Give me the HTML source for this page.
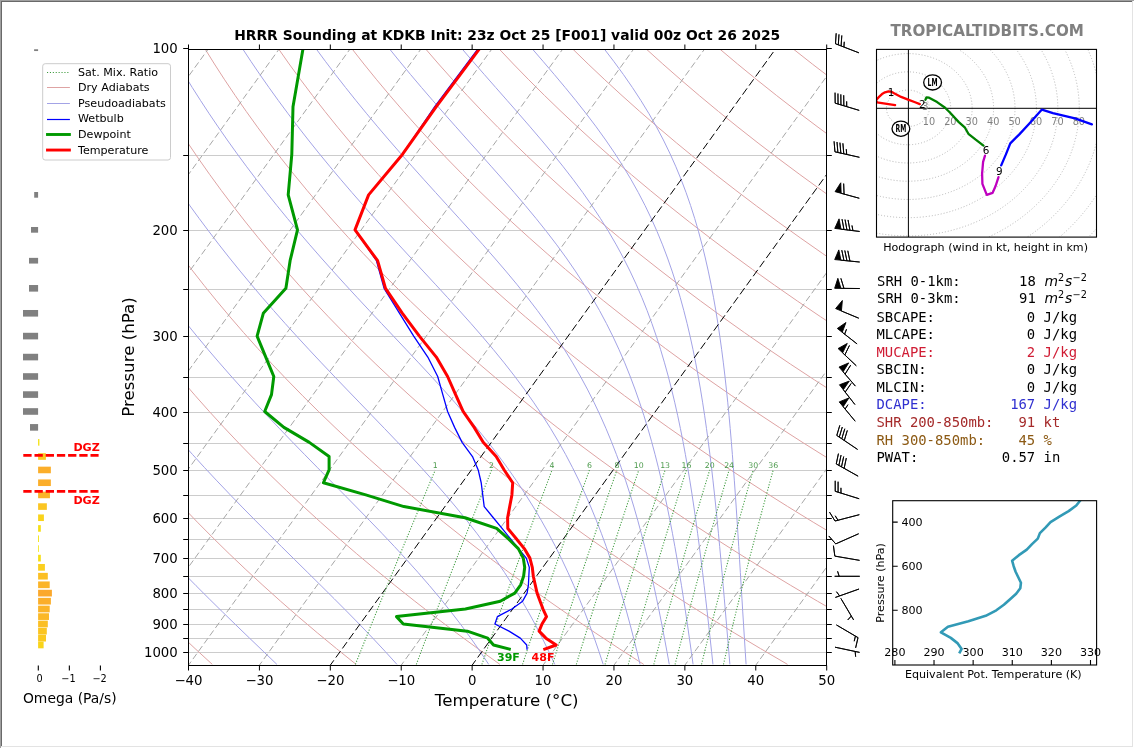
<!DOCTYPE html>
<html><head><meta charset="utf-8"><title>HRRR Sounding</title>
<style>html,body{margin:0;padding:0;background:#fff}body{width:1134px;height:748px;overflow:hidden}svg{display:block;will-change:transform}</style>
</head><body>
<svg width="1134" height="748" viewBox="0 0 1134 748" font-family="'DejaVu Sans', 'Liberation Sans', sans-serif">
<rect x="0" y="0" width="1134" height="748" fill="#fff"/>
<clipPath id="cm"><rect x="188.5" y="49.5" width="638.0" height="616.0"/></clipPath>
<g clip-path="url(#cm)">
<line x1="188.5" x2="826.5" y1="155.5" y2="155.5" stroke="#cccccc" stroke-width="1"/>
<line x1="188.5" x2="826.5" y1="230.5" y2="230.5" stroke="#cccccc" stroke-width="1"/>
<line x1="188.5" x2="826.5" y1="289.5" y2="289.5" stroke="#cccccc" stroke-width="1"/>
<line x1="188.5" x2="826.5" y1="336.5" y2="336.5" stroke="#cccccc" stroke-width="1"/>
<line x1="188.5" x2="826.5" y1="377.5" y2="377.5" stroke="#cccccc" stroke-width="1"/>
<line x1="188.5" x2="826.5" y1="412.5" y2="412.5" stroke="#cccccc" stroke-width="1"/>
<line x1="188.5" x2="826.5" y1="443.5" y2="443.5" stroke="#cccccc" stroke-width="1"/>
<line x1="188.5" x2="826.5" y1="470.5" y2="470.5" stroke="#cccccc" stroke-width="1"/>
<line x1="188.5" x2="826.5" y1="495.5" y2="495.5" stroke="#cccccc" stroke-width="1"/>
<line x1="188.5" x2="826.5" y1="518.5" y2="518.5" stroke="#cccccc" stroke-width="1"/>
<line x1="188.5" x2="826.5" y1="539.5" y2="539.5" stroke="#cccccc" stroke-width="1"/>
<line x1="188.5" x2="826.5" y1="558.5" y2="558.5" stroke="#cccccc" stroke-width="1"/>
<line x1="188.5" x2="826.5" y1="576.5" y2="576.5" stroke="#cccccc" stroke-width="1"/>
<line x1="188.5" x2="826.5" y1="593.5" y2="593.5" stroke="#cccccc" stroke-width="1"/>
<line x1="188.5" x2="826.5" y1="609.5" y2="609.5" stroke="#cccccc" stroke-width="1"/>
<line x1="188.5" x2="826.5" y1="624.5" y2="624.5" stroke="#cccccc" stroke-width="1"/>
<line x1="188.5" x2="826.5" y1="638.5" y2="638.5" stroke="#cccccc" stroke-width="1"/>
<line x1="188.5" x2="826.5" y1="652.5" y2="652.5" stroke="#cccccc" stroke-width="1"/>
<polyline points="212.29,664.39 195.07,648.59 178.35,632.79 162.1,616.99 146.32,601.19 131.01,585.39 116.16,569.59 101.76,553.79 87.79,537.99 74.26,522.19 61.16,506.39 48.47,490.59 36.2,474.79 24.33,458.99 12.86,443.19 1.78,427.39 -8.92,411.59 -19.24,395.79 -29.19,379.99 -38.77,364.19 -48,348.39 -56.87,332.59 -65.39,316.79 -73.58,300.99 -81.43,285.19 -88.95,269.39 -96.15,253.6 -103.03,237.8 -109.59,222 -115.86,206.2 -121.81,190.4 -127.48,174.6 -132.85,158.8 -137.93,143 -142.73,127.2 -147.26,111.4 -151.51,95.6 -155.49,79.8 -159.21,64 -162.68,48.2" fill="none" stroke="#dea3a3" stroke-width="1"/>
<polyline points="356.1,664.39 336.43,648.59 317.29,632.79 298.67,616.99 280.56,601.19 262.96,585.39 245.85,569.59 229.23,553.79 213.09,537.99 197.42,522.19 182.21,506.39 167.46,490.59 153.15,474.79 139.29,458.99 125.85,443.19 112.84,427.39 100.25,411.59 88.06,395.79 76.28,379.99 64.9,364.19 53.9,348.39 43.29,332.59 33.05,316.79 23.19,300.99 13.69,285.19 4.54,269.39 -4.25,253.6 -12.7,237.8 -20.81,222 -28.59,206.2 -36.04,190.4 -43.17,174.6 -49.98,158.8 -56.47,143 -62.67,127.2 -68.56,111.4 -74.16,95.6 -79.46,79.8 -84.48,64 -89.22,48.2" fill="none" stroke="#dea3a3" stroke-width="1"/>
<polyline points="499.91,664.39 477.78,648.59 456.23,632.79 435.23,616.99 414.8,601.19 394.9,585.39 375.54,569.59 356.71,553.79 338.39,537.99 320.58,522.19 303.27,506.39 286.45,490.59 270.11,474.79 254.24,458.99 238.84,443.19 223.9,427.39 209.41,411.59 195.37,395.79 181.75,379.99 168.57,364.19 155.8,348.39 143.45,332.59 131.5,316.79 119.95,300.99 108.8,285.19 98.03,269.39 87.64,253.6 77.62,237.8 67.97,222 58.67,206.2 49.74,190.4 41.14,174.6 32.89,158.8 24.98,143 17.4,127.2 10.14,111.4 3.2,95.6 -3.43,79.8 -9.75,64 -15.77,48.2" fill="none" stroke="#dea3a3" stroke-width="1"/>
<polyline points="643.72,664.39 619.14,648.59 595.17,632.79 571.8,616.99 549.03,601.19 526.84,585.39 505.23,569.59 484.18,553.79 463.68,537.99 443.73,522.19 424.32,506.39 405.43,490.59 387.06,474.79 369.2,458.99 351.84,443.19 334.97,427.39 318.58,411.59 302.67,395.79 287.22,379.99 272.24,364.19 257.7,348.39 243.61,332.59 229.95,316.79 216.72,300.99 203.91,285.19 191.52,269.39 179.53,253.6 167.94,237.8 156.75,222 145.94,206.2 135.51,190.4 125.45,174.6 115.76,158.8 106.43,143 97.46,127.2 88.83,111.4 80.55,95.6 72.6,79.8 64.98,64 57.69,48.2" fill="none" stroke="#dea3a3" stroke-width="1"/>
<polyline points="787.53,664.39 760.49,648.59 734.11,632.79 708.37,616.99 683.27,601.19 658.79,585.39 634.92,569.59 611.65,553.79 588.98,537.99 566.89,522.19 545.37,506.39 524.42,490.59 504.02,474.79 484.16,458.99 464.83,443.19 446.03,427.39 427.75,411.59 409.97,395.79 392.69,379.99 375.91,364.19 359.6,348.39 343.77,332.59 328.4,316.79 313.49,300.99 299.03,285.19 285.01,269.39 271.42,253.6 258.27,237.8 245.53,222 233.2,206.2 221.28,190.4 209.76,174.6 198.63,158.8 187.89,143 177.52,127.2 167.53,111.4 157.9,95.6 148.63,79.8 139.72,64 131.15,48.2" fill="none" stroke="#dea3a3" stroke-width="1"/>
<polyline points="931.34,664.39 901.85,648.59 873.05,632.79 844.94,616.99 817.5,601.19 790.73,585.39 764.61,569.59 739.13,553.79 714.28,537.99 690.05,522.19 666.43,506.39 643.41,490.59 620.97,474.79 599.11,458.99 577.83,443.19 557.1,427.39 536.92,411.59 517.27,395.79 498.16,379.99 479.57,364.19 461.5,348.39 443.92,332.59 426.85,316.79 410.25,300.99 394.14,285.19 378.5,269.39 363.32,253.6 348.59,237.8 334.31,222 320.47,206.2 307.06,190.4 294.07,174.6 281.5,158.8 269.34,143 257.59,127.2 246.22,111.4 235.25,95.6 224.66,79.8 214.45,64 204.6,48.2" fill="none" stroke="#dea3a3" stroke-width="1"/>
<polyline points="1075.15,664.39 1043.2,648.59 1011.99,632.79 981.5,616.99 951.74,601.19 922.67,585.39 894.3,569.59 866.6,553.79 839.58,537.99 813.21,522.19 787.48,506.39 762.39,490.59 737.93,474.79 714.07,458.99 690.82,443.19 668.16,427.39 646.08,411.59 624.58,395.79 603.63,379.99 583.24,364.19 563.4,348.39 544.08,332.59 525.29,316.79 507.02,300.99 489.26,285.19 471.99,269.39 455.21,253.6 438.91,237.8 423.09,222 407.73,206.2 392.83,190.4 378.38,174.6 364.37,158.8 350.8,143 337.65,127.2 324.92,111.4 312.6,95.6 300.69,79.8 289.18,64 278.06,48.2" fill="none" stroke="#dea3a3" stroke-width="1"/>
<polyline points="1218.96,664.39 1184.56,648.59 1150.93,632.79 1118.07,616.99 1085.97,601.19 1054.61,585.39 1023.99,569.59 994.08,553.79 964.87,537.99 936.37,522.19 908.54,506.39 881.38,490.59 854.88,474.79 829.03,458.99 803.81,443.19 779.23,427.39 755.25,411.59 731.88,395.79 709.11,379.99 686.91,364.19 665.3,348.39 644.24,332.59 623.74,316.79 603.79,300.99 584.37,285.19 565.48,269.39 547.1,253.6 529.24,237.8 511.87,222 495,206.2 478.61,190.4 462.69,174.6 447.24,158.8 432.25,143 417.71,127.2 403.62,111.4 389.96,95.6 376.72,79.8 363.91,64 351.51,48.2" fill="none" stroke="#dea3a3" stroke-width="1"/>
<polyline points="1362.78,664.39 1325.91,648.59 1289.87,632.79 1254.64,616.99 1220.21,601.19 1186.56,585.39 1153.68,569.59 1121.55,553.79 1090.17,537.99 1059.52,522.19 1029.59,506.39 1000.37,490.59 971.84,474.79 943.99,458.99 916.81,443.19 890.29,427.39 864.42,411.59 839.18,395.79 814.58,379.99 790.58,364.19 767.19,348.39 744.4,332.59 722.19,316.79 700.55,300.99 679.48,285.19 658.97,269.39 639,253.6 619.56,237.8 600.65,222 582.26,206.2 564.38,190.4 547,174.6 530.11,158.8 513.71,143 497.78,127.2 482.31,111.4 467.31,95.6 452.75,79.8 438.64,64 424.97,48.2" fill="none" stroke="#dea3a3" stroke-width="1"/>
<polyline points="1506.59,664.39 1467.27,648.59 1428.81,632.79 1391.21,616.99 1354.44,601.19 1318.5,585.39 1283.37,569.59 1249.03,553.79 1215.47,537.99 1182.68,522.19 1150.65,506.39 1119.35,490.59 1088.79,474.79 1058.94,458.99 1029.8,443.19 1001.35,427.39 973.59,411.59 946.49,395.79 920.05,379.99 894.25,364.19 869.09,348.39 844.56,332.59 820.64,316.79 797.32,300.99 774.6,285.19 752.46,269.39 730.89,253.6 709.88,237.8 689.43,222 669.53,206.2 650.16,190.4 631.31,174.6 612.98,158.8 595.16,143 577.84,127.2 561.01,111.4 544.66,95.6 528.79,79.8 513.38,64 498.43,48.2" fill="none" stroke="#dea3a3" stroke-width="1"/>
<polyline points="1650.4,664.39 1608.62,648.59 1567.75,632.79 1527.78,616.99 1488.68,601.19 1450.44,585.39 1413.06,569.59 1376.5,553.79 1340.77,537.99 1305.84,522.19 1271.7,506.39 1238.34,490.59 1205.75,474.79 1173.9,458.99 1142.8,443.19 1112.42,427.39 1082.75,411.59 1053.79,395.79 1025.52,379.99 997.92,364.19 970.99,348.39 944.72,332.59 919.09,316.79 894.09,300.99 869.71,285.19 845.95,269.39 822.78,253.6 800.21,237.8 778.21,222 756.79,206.2 735.93,190.4 715.62,174.6 695.85,158.8 676.61,143 657.9,127.2 639.7,111.4 622.01,95.6 604.82,79.8 588.11,64 571.88,48.2" fill="none" stroke="#dea3a3" stroke-width="1"/>
<polyline points="1794.21,664.39 1749.97,648.59 1706.69,632.79 1664.34,616.99 1622.91,601.19 1582.39,585.39 1542.75,569.59 1503.98,553.79 1466.06,537.99 1429,522.19 1392.75,506.39 1357.33,490.59 1322.7,474.79 1288.86,458.99 1255.79,443.19 1223.48,427.39 1191.92,411.59 1161.09,395.79 1130.99,379.99 1101.59,364.19 1072.89,348.39 1044.88,332.59 1017.53,316.79 990.85,300.99 964.83,285.19 939.44,269.39 914.67,253.6 890.53,237.8 867,222 844.06,206.2 821.7,190.4 799.93,174.6 778.72,158.8 758.07,143 737.97,127.2 718.4,111.4 699.36,95.6 680.85,79.8 662.84,64 645.34,48.2" fill="none" stroke="#dea3a3" stroke-width="1"/>
<polyline points="1938.02,664.39 1891.33,648.59 1845.63,632.79 1800.91,616.99 1757.15,601.19 1714.33,585.39 1672.43,569.59 1631.45,553.79 1591.36,537.99 1552.15,522.19 1513.81,506.39 1476.31,490.59 1439.65,474.79 1403.82,458.99 1368.79,443.19 1334.55,427.39 1301.09,411.59 1268.4,395.79 1236.46,379.99 1205.26,364.19 1174.79,348.39 1145.03,332.59 1115.98,316.79 1087.62,300.99 1059.94,285.19 1032.93,269.39 1006.57,253.6 980.86,237.8 955.78,222 931.32,206.2 907.48,190.4 884.24,174.6 861.59,158.8 839.52,143 818.03,127.2 797.1,111.4 776.71,95.6 756.88,79.8 737.57,64 718.79,48.2" fill="none" stroke="#dea3a3" stroke-width="1"/>
<polyline points="2081.83,664.39 2032.68,648.59 1984.57,632.79 1937.48,616.99 1891.38,601.19 1846.27,585.39 1802.12,569.59 1758.93,553.79 1716.66,537.99 1675.31,522.19 1634.86,506.39 1595.3,490.59 1556.61,474.79 1518.77,458.99 1481.78,443.19 1445.61,427.39 1410.26,411.59 1375.7,395.79 1341.93,379.99 1308.93,364.19 1276.69,348.39 1245.19,332.59 1214.43,316.79 1184.39,300.99 1155.05,285.19 1126.42,269.39 1098.46,253.6 1071.18,237.8 1044.56,222 1018.59,206.2 993.25,190.4 968.55,174.6 944.46,158.8 920.98,143 898.09,127.2 875.79,111.4 854.07,95.6 832.91,79.8 812.31,64 792.25,48.2" fill="none" stroke="#dea3a3" stroke-width="1"/>
<polyline points="-125.31,48.2 -121.93,61.31 -118.37,74.42 -114.62,87.53 -110.67,100.64 -106.54,113.75 -102.21,126.86 -97.68,139.97 -92.95,153.08 -88.01,166.19 -82.87,179.3 -77.52,192.41 -71.95,205.52 -66.17,218.63 -60.17,231.74 -53.95,244.85 -47.5,257.97 -40.82,271.08 -33.91,284.19 -26.77,297.3 -19.38,310.41 -11.75,323.52 -3.88,336.63 4.24,349.74 12.62,362.85 21.25,375.96 30.14,389.07 39.29,402.18 48.71,415.29 58.4,428.4 68.36,441.51 78.6,454.62 89.11,467.73 99.91,480.84 110.98,493.95 122.33,507.06 133.96,520.17 145.87,533.28 158.04,546.39 170.48,559.5 183.16,572.61 196.07,585.72 209.2,598.83 222.51,611.94 235.98,625.05 249.56,638.16 263.21,651.28 276.89,664.39" fill="none" stroke="#a3a3e6" stroke-width="1"/>
<polyline points="-51.8,48.2 -47.37,61.31 -42.73,74.42 -37.89,87.53 -32.85,100.64 -27.59,113.75 -22.12,126.86 -16.44,139.97 -10.55,153.08 -4.43,166.19 1.92,179.3 8.49,192.41 15.29,205.52 22.33,218.63 29.6,231.74 37.12,244.85 44.87,257.97 52.88,271.08 61.14,284.19 69.65,297.3 78.42,310.41 87.45,323.52 96.74,336.63 106.3,349.74 116.14,362.85 126.24,375.96 136.62,389.07 147.28,402.18 158.21,415.29 169.42,428.4 180.9,441.51 192.65,454.62 204.66,467.73 216.91,480.84 229.41,493.95 242.12,507.06 255.02,520.17 268.09,533.28 281.27,546.39 294.54,559.5 307.84,572.61 321.11,585.72 334.3,598.83 347.35,611.94 360.19,625.05 372.77,638.16 385.03,651.28 396.94,664.39" fill="none" stroke="#a3a3e6" stroke-width="1"/>
<polyline points="21.71,48.2 27.2,61.31 32.91,74.42 38.84,87.53 44.98,100.64 51.36,113.75 57.96,126.86 64.79,139.97 71.86,153.08 79.16,166.19 86.71,179.3 94.5,192.41 102.54,205.52 110.83,218.63 119.37,231.74 128.17,244.85 137.24,257.97 146.56,271.08 156.16,284.19 166.02,297.3 176.16,310.41 186.57,323.52 197.25,336.63 208.2,349.74 219.43,362.85 230.92,375.96 242.66,389.07 254.65,402.18 266.87,415.29 279.3,428.4 291.92,441.51 304.69,454.62 317.57,467.73 330.52,480.84 343.49,493.95 356.41,507.06 369.22,520.17 381.87,533.28 394.28,546.39 406.4,559.5 418.17,572.61 429.57,585.72 440.54,598.83 451.07,611.94 461.15,625.05 470.78,638.16 479.96,651.28 488.7,664.39" fill="none" stroke="#a3a3e6" stroke-width="1"/>
<polyline points="95.21,48.2 101.76,61.31 108.55,74.42 115.56,87.53 122.81,100.64 130.3,113.75 138.04,126.86 146.02,139.97 154.26,153.08 162.74,166.19 171.49,179.3 180.49,192.41 189.76,205.52 199.3,218.63 209.1,231.74 219.17,244.85 229.51,257.97 240.12,271.08 251,284.19 262.14,297.3 273.54,310.41 285.19,323.52 297.07,336.63 309.16,349.74 321.45,362.85 333.9,375.96 346.47,389.07 359.11,402.18 371.78,415.29 384.41,428.4 396.95,441.51 409.31,454.62 421.45,467.73 433.29,480.84 444.79,493.95 455.89,507.06 466.56,520.17 476.77,533.28 486.52,546.39 495.79,559.5 504.61,572.61 512.96,585.72 520.89,598.83 528.39,611.94 535.51,625.05 542.27,638.16 548.68,651.28 554.78,664.39" fill="none" stroke="#a3a3e6" stroke-width="1"/>
<polyline points="168.72,48.2 176.33,61.31 184.18,74.42 192.28,87.53 200.64,100.64 209.24,113.75 218.11,126.86 227.24,139.97 236.63,153.08 246.29,166.19 256.21,179.3 266.4,192.41 276.86,205.52 287.58,218.63 298.56,231.74 309.8,244.85 321.28,257.97 332.98,271.08 344.89,284.19 356.98,297.3 369.21,310.41 381.55,323.52 393.95,336.63 406.34,349.74 418.67,362.85 430.86,375.96 442.86,389.07 454.58,402.18 465.98,415.29 476.99,428.4 487.58,441.51 497.71,454.62 507.36,467.73 516.52,480.84 525.2,493.95 533.41,507.06 541.16,520.17 548.48,533.28 555.38,546.39 561.89,559.5 568.05,572.61 573.88,585.72 579.39,598.83 584.63,611.94 589.6,625.05 594.34,638.16 598.87,651.28 603.19,664.39" fill="none" stroke="#a3a3e6" stroke-width="1"/>
<polyline points="242.22,48.2 250.88,61.31 259.8,74.42 268.98,87.53 278.42,100.64 288.13,113.75 298.1,126.86 308.34,139.97 318.84,153.08 329.6,166.19 340.6,179.3 351.85,192.41 363.33,205.52 375.01,218.63 386.86,231.74 398.86,244.85 410.96,257.97 423.12,271.08 435.26,284.19 447.34,297.3 459.27,310.41 470.99,323.52 482.42,336.63 493.51,349.74 504.2,362.85 514.45,375.96 524.22,389.07 533.5,402.18 542.27,415.29 550.56,428.4 558.36,441.51 565.69,454.62 572.58,467.73 579.06,480.84 585.14,493.95 590.87,507.06 596.25,520.17 601.34,533.28 606.13,546.39 610.67,559.5 614.98,572.61 619.07,585.72 622.96,598.83 626.67,611.94 630.23,625.05 633.64,638.16 636.92,651.28 640.09,664.39" fill="none" stroke="#a3a3e6" stroke-width="1"/>
<polyline points="315.68,48.2 325.37,61.31 335.33,74.42 345.55,87.53 356.02,100.64 366.75,113.75 377.72,126.86 388.92,139.97 400.33,153.08 411.92,166.19 423.67,179.3 435.53,192.41 447.45,205.52 459.38,218.63 471.25,231.74 483,244.85 494.54,257.97 505.8,271.08 516.72,284.19 527.24,297.3 537.32,310.41 546.91,323.52 556,336.63 564.57,349.74 572.64,362.85 580.21,375.96 587.3,389.07 593.93,402.18 600.14,415.29 605.95,428.4 611.38,441.51 616.47,454.62 621.25,467.73 625.73,480.84 629.95,493.95 633.93,507.06 637.69,520.17 641.24,533.28 644.62,546.39 647.83,559.5 650.89,572.61 653.82,585.72 656.63,598.83 659.33,611.94 661.93,625.05 664.45,638.16 666.9,651.28 669.27,664.39" fill="none" stroke="#a3a3e6" stroke-width="1"/>
<polyline points="388.94,48.2 399.59,61.31 410.46,74.42 421.56,87.53 432.86,100.64 444.33,113.75 455.94,126.86 467.63,139.97 479.36,153.08 491.06,166.19 502.67,179.3 514.11,192.41 525.3,205.52 536.18,218.63 546.67,231.74 556.72,244.85 566.3,257.97 575.36,271.08 583.91,284.19 591.93,297.3 599.44,310.41 606.45,323.52 612.99,336.63 619.08,349.74 624.75,362.85 630.03,375.96 634.95,389.07 639.54,402.18 643.82,415.29 647.82,428.4 651.58,441.51 655.1,454.62 658.41,467.73 661.53,480.84 664.47,493.95 667.26,507.06 669.91,520.17 672.44,533.28 674.84,546.39 677.15,559.5 679.36,572.61 681.5,585.72 683.56,598.83 685.56,611.94 687.5,625.05 689.39,638.16 691.25,651.28 693.07,664.39" fill="none" stroke="#a3a3e6" stroke-width="1"/>
<polyline points="461.46,48.2 472.77,61.31 484.22,74.42 495.74,87.53 507.28,100.64 518.77,113.75 530.15,126.86 541.34,139.97 552.25,153.08 562.82,166.19 572.98,179.3 582.68,192.41 591.88,205.52 600.56,218.63 608.7,231.74 616.31,244.85 623.4,257.97 630,271.08 636.12,284.19 641.79,297.3 647.05,310.41 651.92,323.52 656.44,336.63 660.64,349.74 664.53,362.85 668.16,375.96 671.53,389.07 674.68,402.18 677.63,415.29 680.38,428.4 682.97,441.51 685.41,454.62 687.71,467.73 689.89,480.84 691.96,493.95 693.92,507.06 695.8,520.17 697.6,533.28 699.33,546.39 700.99,559.5 702.61,572.61 704.17,585.72 705.7,598.83 707.2,611.94 708.66,625.05 710.11,638.16 711.54,651.28 712.95,664.39" fill="none" stroke="#a3a3e6" stroke-width="1"/>
<polyline points="531.7,48.2 543.02,61.31 554.21,74.42 565.2,87.53 575.92,100.64 586.27,113.75 596.21,126.86 605.67,139.97 614.62,153.08 623.04,166.19 630.91,179.3 638.24,192.41 645.05,205.52 651.35,218.63 657.17,231.74 662.55,244.85 667.51,257.97 672.08,271.08 676.3,284.19 680.19,297.3 683.78,310.41 687.11,323.52 690.18,336.63 693.04,349.74 695.68,362.85 698.15,375.96 700.44,389.07 702.59,402.18 704.6,415.29 706.48,428.4 708.25,441.51 709.93,454.62 711.52,467.73 713.02,480.84 714.46,493.95 715.84,507.06 717.16,520.17 718.43,533.28 719.67,546.39 720.87,559.5 722.04,572.61 723.19,585.72 724.32,598.83 725.44,611.94 726.56,625.05 727.66,638.16 728.77,651.28 729.89,664.39" fill="none" stroke="#a3a3e6" stroke-width="1"/>
<polyline points="603.68,48.2 613.72,61.31 623.32,74.42 632.42,87.53 640.98,100.64 649,113.75 656.46,126.86 663.38,139.97 669.76,153.08 675.65,166.19 681.06,179.3 686.02,192.41 690.58,205.52 694.75,218.63 698.58,231.74 702.09,244.85 705.31,257.97 708.27,271.08 710.99,284.19 713.49,297.3 715.79,310.41 717.91,323.52 719.87,336.63 721.68,349.74 723.36,362.85 724.92,375.96 726.37,389.07 727.73,402.18 729,415.29 730.19,428.4 731.32,441.51 732.38,454.62 733.4,467.73 734.36,480.84 735.29,493.95 736.19,507.06 737.06,520.17 737.9,533.28 738.73,546.39 739.55,559.5 740.35,572.61 741.16,585.72 741.96,598.83 742.76,611.94 743.58,625.05 744.4,638.16 745.24,651.28 746.09,664.39" fill="none" stroke="#a3a3e6" stroke-width="1"/>
<line x1="-380.45" y1="667.5" x2="67.5" y2="47.5" stroke="#a6a6a6" stroke-width="1.0" stroke-dasharray="6.5,3.1" stroke-dashoffset="-0.8"/>
<line x1="-309.54" y1="667.5" x2="138.41" y2="47.5" stroke="#a6a6a6" stroke-width="1.0" stroke-dasharray="6.5,3.1" stroke-dashoffset="-0.8"/>
<line x1="-238.63" y1="667.5" x2="209.32" y2="47.5" stroke="#a6a6a6" stroke-width="1.0" stroke-dasharray="6.5,3.1" stroke-dashoffset="-0.8"/>
<line x1="-167.72" y1="667.5" x2="280.23" y2="47.5" stroke="#a6a6a6" stroke-width="1.0" stroke-dasharray="6.5,3.1" stroke-dashoffset="-0.8"/>
<line x1="-96.81" y1="667.5" x2="351.14" y2="47.5" stroke="#a6a6a6" stroke-width="1.0" stroke-dasharray="6.5,3.1" stroke-dashoffset="-0.8"/>
<line x1="-25.9" y1="667.5" x2="422.05" y2="47.5" stroke="#a6a6a6" stroke-width="1.0" stroke-dasharray="6.5,3.1" stroke-dashoffset="-0.8"/>
<line x1="45.01" y1="667.5" x2="492.96" y2="47.5" stroke="#a6a6a6" stroke-width="1.0" stroke-dasharray="6.5,3.1" stroke-dashoffset="-0.8"/>
<line x1="115.92" y1="667.5" x2="563.87" y2="47.5" stroke="#a6a6a6" stroke-width="1.0" stroke-dasharray="6.5,3.1" stroke-dashoffset="-0.8"/>
<line x1="186.83" y1="667.5" x2="634.78" y2="47.5" stroke="#a6a6a6" stroke-width="1.0" stroke-dasharray="6.5,3.1" stroke-dashoffset="-0.8"/>
<line x1="257.74" y1="667.5" x2="705.69" y2="47.5" stroke="#a6a6a6" stroke-width="1.0" stroke-dasharray="6.5,3.1" stroke-dashoffset="-0.8"/>
<line x1="328.65" y1="667.5" x2="776.6" y2="47.5" stroke="#000000" stroke-width="1.0" stroke-dasharray="7.8,3.4" stroke-dashoffset="-1.1"/>
<line x1="399.56" y1="667.5" x2="847.51" y2="47.5" stroke="#a6a6a6" stroke-width="1.0" stroke-dasharray="6.5,3.1" stroke-dashoffset="-0.8"/>
<line x1="470.47" y1="667.5" x2="918.42" y2="47.5" stroke="#000000" stroke-width="1.0" stroke-dasharray="7.8,3.4" stroke-dashoffset="-1.1"/>
<line x1="541.38" y1="667.5" x2="989.33" y2="47.5" stroke="#a6a6a6" stroke-width="1.0" stroke-dasharray="6.5,3.1" stroke-dashoffset="-0.8"/>
<line x1="612.29" y1="667.5" x2="1060.24" y2="47.5" stroke="#a6a6a6" stroke-width="1.0" stroke-dasharray="6.5,3.1" stroke-dashoffset="-0.8"/>
<line x1="683.2" y1="667.5" x2="1131.15" y2="47.5" stroke="#a6a6a6" stroke-width="1.0" stroke-dasharray="6.5,3.1" stroke-dashoffset="-0.8"/>
<line x1="754.11" y1="667.5" x2="1202.06" y2="47.5" stroke="#a6a6a6" stroke-width="1.0" stroke-dasharray="6.5,3.1" stroke-dashoffset="-0.8"/>
<line x1="825.02" y1="667.5" x2="1272.97" y2="47.5" stroke="#a6a6a6" stroke-width="1.0" stroke-dasharray="6.5,3.1" stroke-dashoffset="-0.8"/>
<polyline points="355.4,664.39 362.46,646.71 369.57,629.04 376.71,611.36 383.9,593.68 391.12,576.01 398.38,558.33 405.68,540.66 413.02,522.98 420.4,505.31 427.81,487.63 435.26,469.96" fill="none" stroke="#3d9a3d" stroke-width="1.1" stroke-dasharray="1.1,1.7"/>
<polyline points="416.32,664.39 422.95,646.71 429.62,629.04 436.33,611.36 443.09,593.68 449.9,576.01 456.74,558.33 463.63,540.66 470.56,522.98 477.54,505.31 484.55,487.63 491.6,469.96" fill="none" stroke="#3d9a3d" stroke-width="1.1" stroke-dasharray="1.1,1.7"/>
<polyline points="481.89,664.39 488.02,646.71 494.21,629.04 500.44,611.36 506.73,593.68 513.06,576.01 519.44,558.33 525.87,540.66 532.35,522.98 538.87,505.31 545.44,487.63 552.06,469.96" fill="none" stroke="#3d9a3d" stroke-width="1.1" stroke-dasharray="1.1,1.7"/>
<polyline points="522.55,664.39 528.37,646.71 534.24,629.04 540.17,611.36 546.15,593.68 552.18,576.01 558.27,558.33 564.41,540.66 570.59,522.98 576.83,505.31 583.12,487.63 589.45,469.96" fill="none" stroke="#3d9a3d" stroke-width="1.1" stroke-dasharray="1.1,1.7"/>
<polyline points="552.47,664.39 558.05,646.71 563.7,629.04 569.39,611.36 575.15,593.68 580.96,576.01 586.82,558.33 592.74,540.66 598.71,522.98 604.73,505.31 610.8,487.63 616.93,469.96" fill="none" stroke="#3d9a3d" stroke-width="1.1" stroke-dasharray="1.1,1.7"/>
<polyline points="576.31,664.39 581.7,646.71 587.15,629.04 592.67,611.36 598.24,593.68 603.86,576.01 609.55,558.33 615.29,540.66 621.08,522.98 626.93,505.31 632.83,487.63 638.79,469.96" fill="none" stroke="#3d9a3d" stroke-width="1.1" stroke-dasharray="1.1,1.7"/>
<polyline points="605.04,664.39 610.2,646.71 615.42,629.04 620.71,611.36 626.05,593.68 631.46,576.01 636.92,558.33 642.45,540.66 648.03,522.98 653.66,505.31 659.36,487.63 665.11,469.96" fill="none" stroke="#3d9a3d" stroke-width="1.1" stroke-dasharray="1.1,1.7"/>
<polyline points="628.31,664.39 633.28,646.71 638.31,629.04 643.41,611.36 648.57,593.68 653.8,576.01 659.08,558.33 664.43,540.66 669.83,522.98 675.3,505.31 680.82,487.63 686.4,469.96" fill="none" stroke="#3d9a3d" stroke-width="1.1" stroke-dasharray="1.1,1.7"/>
<polyline points="653.84,664.39 658.59,646.71 663.42,629.04 668.31,611.36 673.27,593.68 678.29,576.01 683.37,558.33 688.52,540.66 693.73,522.98 699,505.31 704.33,487.63 709.73,469.96" fill="none" stroke="#3d9a3d" stroke-width="1.1" stroke-dasharray="1.1,1.7"/>
<polyline points="675.08,664.39 679.66,646.71 684.31,629.04 689.02,611.36 693.81,593.68 698.66,576.01 703.57,558.33 708.56,540.66 713.6,522.98 718.71,505.31 723.88,487.63 729.12,469.96" fill="none" stroke="#3d9a3d" stroke-width="1.1" stroke-dasharray="1.1,1.7"/>
<polyline points="701.52,664.39 705.88,646.71 710.3,629.04 714.8,611.36 719.37,593.68 724,576.01 728.71,558.33 733.48,540.66 738.32,522.98 743.23,505.31 748.2,487.63 753.23,469.96" fill="none" stroke="#3d9a3d" stroke-width="1.1" stroke-dasharray="1.1,1.7"/>
<polyline points="723.47,664.39 727.63,646.71 731.87,629.04 736.18,611.36 740.57,593.68 745.02,576.01 749.55,558.33 754.15,540.66 758.82,522.98 763.55,505.31 768.35,487.63 773.22,469.96" fill="none" stroke="#3d9a3d" stroke-width="1.1" stroke-dasharray="1.1,1.7"/>
</g>
<text x="435.26" y="467.8" font-size="7.8" fill="#4c9a4c" text-anchor="middle">1</text>
<text x="491.6" y="467.8" font-size="7.8" fill="#4c9a4c" text-anchor="middle">2</text>
<text x="552.06" y="467.8" font-size="7.8" fill="#4c9a4c" text-anchor="middle">4</text>
<text x="589.45" y="467.8" font-size="7.8" fill="#4c9a4c" text-anchor="middle">6</text>
<text x="616.93" y="467.8" font-size="7.8" fill="#4c9a4c" text-anchor="middle">8</text>
<text x="638.79" y="467.8" font-size="7.8" fill="#4c9a4c" text-anchor="middle">10</text>
<text x="665.11" y="467.8" font-size="7.8" fill="#4c9a4c" text-anchor="middle">13</text>
<text x="686.4" y="467.8" font-size="7.8" fill="#4c9a4c" text-anchor="middle">16</text>
<text x="709.73" y="467.8" font-size="7.8" fill="#4c9a4c" text-anchor="middle">20</text>
<text x="729.12" y="467.8" font-size="7.8" fill="#4c9a4c" text-anchor="middle">24</text>
<text x="753.23" y="467.8" font-size="7.8" fill="#4c9a4c" text-anchor="middle">30</text>
<text x="773.22" y="467.8" font-size="7.8" fill="#4c9a4c" text-anchor="middle">36</text>
<g clip-path="url(#cm)" fill="none" stroke-linejoin="round">
<polyline points="478.44,48.2 434.74,106.68 402.4,154.45 368.6,194.85 355,229.84 376.5,260.71 384.1,288.32 399.57,313.29 413.7,336.09 427.8,357.07 437.7,376.49 442.82,394.57 447.6,411.48 454.6,427.37 462.1,442.35 472.5,456.52 478.2,469.96 481.2,482.74 482.73,494.93 484.2,506.58 493.31,517.74 502.05,528.43 510.44,538.71 518.52,548.6 526.3,558.13 529.3,567.33 528.84,576.21 528.4,584.8 527.1,593.12 522.6,601.19 511.9,609.01 497.4,616.61 494.9,623.99 509,631.17 520.3,638.16 526.7,644.97 527.02,649.1" stroke="#0000ff" stroke-width="1.3" stroke-linecap="square"/>
<polyline points="303.1,48.2 293,106.68 291.8,154.45 288.2,194.85 297.5,229.84 290.1,260.71 285.9,288.32 263.3,313.29 257.1,336.09 265.77,357.07 273.8,376.49 271.5,394.57 264.7,411.48 283.9,427.37 309.3,442.35 329.1,456.52 329.1,469.96 323.4,482.74 365.8,494.93 403.9,506.58 465,517.74 496.6,528.43 508.2,538.71 518.3,548.6 523.3,558.13 524.7,567.33 523.6,576.21 520.7,584.8 514.8,593.12 500.3,601.19 465.4,609.01 396.5,616.61 403.3,623.99 467.3,631.17 487.7,638.16 493.5,644.97 509.29,649.1" stroke="#009900" stroke-width="3.0" stroke-linecap="square"/>
<polyline points="480,48.2 436.3,106.68 402.4,154.45 368.6,194.85 355,229.84 377.6,260.71 385.5,288.32 402.4,313.29 419.4,336.09 436.3,357.07 447.6,376.49 455.61,394.57 463.1,411.48 474.2,427.37 483.2,442.35 496.2,456.52 504.2,469.96 512.7,482.74 511.9,494.93 509.7,506.58 507.6,517.74 507.8,528.43 516.3,538.71 524.3,548.6 529.9,558.13 532.3,567.33 533.3,576.21 535.23,584.8 537.1,593.12 540.09,601.19 543,609.01 546.5,616.61 542,623.99 539.1,631.17 545.9,638.16 556.2,644.97 544.75,649.1" stroke="#ff0000" stroke-width="3.0" stroke-linecap="square"/>
</g>
<text x="508.4" y="660.8" font-size="11" font-weight="bold" fill="#009900" text-anchor="middle">39F</text>
<text x="543" y="660.8" font-size="11" font-weight="bold" fill="#ff0000" text-anchor="middle">48F</text>
<rect x="188.5" y="49.5" width="638" height="616" fill="none" stroke="#000" stroke-width="1"/>
<path d="M183.2,48.5H188.5M826.5,48.5H831.8M183.2,155.5H188.5M826.5,155.5H831.8M183.2,230.5H188.5M826.5,230.5H831.8M183.2,289.5H188.5M826.5,289.5H831.8M183.2,336.5H188.5M826.5,336.5H831.8M183.2,377.5H188.5M826.5,377.5H831.8M183.2,412.5H188.5M826.5,412.5H831.8M183.2,443.5H188.5M826.5,443.5H831.8M183.2,470.5H188.5M826.5,470.5H831.8M183.2,495.5H188.5M826.5,495.5H831.8M183.2,518.5H188.5M826.5,518.5H831.8M183.2,539.5H188.5M826.5,539.5H831.8M183.2,558.5H188.5M826.5,558.5H831.8M183.2,576.5H188.5M826.5,576.5H831.8M183.2,593.5H188.5M826.5,593.5H831.8M183.2,609.5H188.5M826.5,609.5H831.8M183.2,624.5H188.5M826.5,624.5H831.8M183.2,638.5H188.5M826.5,638.5H831.8M183.2,652.5H188.5M826.5,652.5H831.8M188.5,665.5V670.5M188.5,49.5V44.5M259.41,665.5V670.5M259.41,49.5V44.5M330.32,665.5V670.5M330.32,49.5V44.5M401.23,665.5V670.5M401.23,49.5V44.5M472.14,665.5V670.5M472.14,49.5V44.5M543.05,665.5V670.5M543.05,49.5V44.5M613.96,665.5V670.5M613.96,49.5V44.5M684.87,665.5V670.5M684.87,49.5V44.5M755.78,665.5V670.5M755.78,49.5V44.5M826.69,665.5V670.5M826.69,49.5V44.5" stroke="#000" stroke-width="1" fill="none"/>
<text x="177.8" y="53.3" font-size="13.3" text-anchor="end">100</text>
<text x="177.8" y="235.3" font-size="13.3" text-anchor="end">200</text>
<text x="177.8" y="341.3" font-size="13.3" text-anchor="end">300</text>
<text x="177.8" y="417.3" font-size="13.3" text-anchor="end">400</text>
<text x="177.8" y="475.3" font-size="13.3" text-anchor="end">500</text>
<text x="177.8" y="523.3" font-size="13.3" text-anchor="end">600</text>
<text x="177.8" y="563.3" font-size="13.3" text-anchor="end">700</text>
<text x="177.8" y="598.3" font-size="13.3" text-anchor="end">800</text>
<text x="177.8" y="629.3" font-size="13.3" text-anchor="end">900</text>
<text x="177.8" y="657.3" font-size="13.3" text-anchor="end">1000</text>
<text x="188.5" y="684.7" font-size="13.3" text-anchor="middle">−40</text>
<text x="259.41" y="684.7" font-size="13.3" text-anchor="middle">−30</text>
<text x="330.32" y="684.7" font-size="13.3" text-anchor="middle">−20</text>
<text x="401.23" y="684.7" font-size="13.3" text-anchor="middle">−10</text>
<text x="472.14" y="684.7" font-size="13.3" text-anchor="middle">0</text>
<text x="543.05" y="684.7" font-size="13.3" text-anchor="middle">10</text>
<text x="613.96" y="684.7" font-size="13.3" text-anchor="middle">20</text>
<text x="684.87" y="684.7" font-size="13.3" text-anchor="middle">30</text>
<text x="755.78" y="684.7" font-size="13.3" text-anchor="middle">40</text>
<text x="826.69" y="684.7" font-size="13.3" text-anchor="middle">50</text>
<text x="506.7" y="705.7" font-size="16.67" text-anchor="middle">Temperature (°C)</text>
<text transform="translate(134.1,357) rotate(-90)" x="0" y="0" font-size="16.67" text-anchor="middle">Pressure (hPa)</text>
<text x="507.2" y="40" font-size="13.89" font-weight="bold" text-anchor="middle">HRRR Sounding at KDKB Init: 23z Oct 25 [F001] valid 00z Oct 26 2025</text>
<text x="890.4" y="35.8" font-size="15.17" font-weight="bold" fill="#808080">TROPICALTIDBITS.COM</text>
<rect x="42.7" y="63.7" width="127.8" height="96.3" rx="2.5" fill="#fff" stroke="#cccccc" stroke-width="1"/>
<line x1="47.0" x2="69.9" y1="72.5" y2="72.5" stroke="#3d9a3d" stroke-width="1.1" stroke-linecap="butt" stroke-dasharray="1.1,1.8"/>
<text x="78" y="75.7" font-size="11.11">Sat. Mix. Ratio</text>
<line x1="47.0" x2="69.9" y1="87.5" y2="87.5" stroke="#dea3a3" stroke-width="1" stroke-linecap="butt"/>
<text x="78" y="91.26" font-size="11.11">Dry Adiabats</text>
<line x1="47.0" x2="69.9" y1="103.5" y2="103.5" stroke="#a3a3e6" stroke-width="1" stroke-linecap="butt"/>
<text x="78" y="106.82" font-size="11.11">Pseudoadiabats</text>
<line x1="47.0" x2="69.9" y1="119.5" y2="119.5" stroke="#0000ff" stroke-width="1.2" stroke-linecap="butt"/>
<text x="78" y="122.38" font-size="11.11">Wetbulb</text>
<line x1="47.5" x2="69.4" y1="134.49" y2="134.49" stroke="#009900" stroke-width="2.9" stroke-linecap="square"/>
<text x="78" y="137.94" font-size="11.11">Dewpoint</text>
<line x1="47.5" x2="69.4" y1="150.05" y2="150.05" stroke="#ff0000" stroke-width="2.9" stroke-linecap="square"/>
<text x="78" y="153.5" font-size="11.11">Temperature</text>
<path d="M858.91,52.82 L835.49,43.78 L836.18,33.29 L835.49,43.78 L838.3,44.87 L838.99,34.37 L838.3,44.87 L841.11,45.95 L841.8,35.46 L841.11,45.95 L843.92,47.04 L844.26,41.79 L843.92,47.04Z M859.22,110.38 L835.18,103.17 L835.06,92.65 L835.18,103.17 L838.06,104.03 L837.94,93.52 L838.06,104.03 L840.95,104.9 L840.83,94.38 L840.95,104.9 L843.83,105.77 L843.71,95.25 L843.83,105.77 L846.72,106.63 L846.66,101.37 L846.72,106.63Z M859.45,157.29 L834.95,151.82 L834.08,141.34 L834.95,151.82 L837.89,152.48 L837.01,141.99 L837.89,152.48 L840.83,153.13 L839.95,142.65 L840.83,153.13 L843.77,153.79 L842.89,143.31 L843.77,153.79 L846.71,154.44 L846.27,149.2 L846.71,154.44Z M859.31,198.25 L835.09,191.65 L840.76,182.79 L841.15,193.3 L844.05,194.09 L843.66,183.58 L844.05,194.09Z M859.66,231.46 L834.74,228.42 L839.07,218.84 L840.97,229.18 L843.96,229.55 L842.06,219.2 L843.96,229.55 L846.95,229.91 L845.05,219.57 L846.95,229.91 L849.94,230.28 L848.04,219.93 L849.94,230.28 L852.93,230.64 L851.98,225.47 L852.93,230.64Z M859.69,262.03 L834.71,259.59 L838.81,249.9 L840.95,260.2 L843.95,260.49 L841.8,250.19 L843.95,260.49 L846.95,260.78 L844.8,250.49 L846.95,260.78 L849.95,261.08 L847.8,250.78 L849.95,261.08Z M859.75,288.52 L834.65,288.31 L837.87,278.3 L840.93,288.37 L843.94,288.39 L840.88,278.33 L843.94,288.39Z M858.79,318.21 L835.61,308.58 L842.36,300.51 L841.41,310.99Z M857.08,343.93 L837.32,328.46 L845.98,322.49 L842.26,332.33 L844.63,334.18 L846.49,329.26 L844.63,334.18Z M856.32,365.79 L838.08,348.55 L847.26,343.41 L842.64,352.86 L844.83,354.93 L849.44,345.48 L844.83,354.93Z M855.38,386.11 L839.02,367.08 L848.67,362.91 L843.11,371.83 L845.07,374.12 L850.64,365.19 L845.07,374.12Z M854.94,404.55 L839.46,384.79 L849.3,381.07 L843.33,389.73 L845.19,392.1 L851.16,383.44 L845.19,392.1Z M855.21,421.24 L839.19,401.92 L848.92,397.93 L843.2,406.75 L845.12,409.07 L847.98,404.66 L845.12,409.07Z M857.6,449.47 L836.8,435.43 L839.81,425.35 L836.8,435.43 L839.29,437.11 L842.31,427.04 L839.29,437.11 L841.79,438.8 L844.8,428.72 L841.79,438.8 L844.29,440.48 L847.3,430.41 L844.29,440.48Z M858.14,476.2 L836.26,463.91 L838.44,453.62 L836.26,463.91 L838.88,465.39 L841.06,455.1 L838.88,465.39 L841.51,466.86 L843.69,456.57 L841.51,466.86 L844.14,468.34 L846.32,458.05 L844.14,468.34Z M859.18,498.76 L835.22,491.31 L835.2,480.79 L835.22,491.31 L838.09,492.2 L838.08,481.68 L838.09,492.2 L840.97,493.1 L840.96,487.84 L840.97,493.1Z M859.35,514.68 L835.05,521 L829.49,512.07 L835.05,521 L837.97,520.24 L835.19,515.77 L837.97,520.24Z M858.68,533.74 L835.72,543.88 L828.79,535.96 L835.72,543.88Z M859.57,560.35 L834.83,556.11 L833.43,545.69 L834.83,556.11Z M859.75,576.31 L834.65,576.31 L839.17,576.31 L837.6,571.29 L839.17,576.31Z M859.03,589.03 L835.37,597.42 L839.63,595.91 L836.47,591.7 L839.63,595.91Z M840.8,598.32 L853.6,619.9 L851.3,616.02 L847.78,619.93 L851.3,616.02Z M836.38,624.91 L858.02,637.63 L855.64,647.87 L858.02,637.63 L855.42,636.1 L854.23,641.23 L855.42,636.1Z M835.02,647.2 L859.58,652.4 L855.16,651.46 L855.65,656.7 L855.16,651.46Z" fill="#000" stroke="#000" stroke-width="0.9" stroke-linejoin="round"/>
<clipPath id="co"><rect x="23" y="49.2" width="76" height="616.1"/></clipPath>
<g clip-path="url(#co)">
<rect x="34.1" y="45.35" width="4" height="5.7" fill="#808080"/>
<rect x="34.2" y="192" width="3.9" height="5.7" fill="#808080"/>
<rect x="31" y="226.99" width="7.1" height="5.7" fill="#808080"/>
<rect x="29" y="257.86" width="9.1" height="5.7" fill="#808080"/>
<rect x="29" y="285.02" width="9.1" height="6.6" fill="#808080"/>
<rect x="15" y="309.99" width="23.1" height="6.6" fill="#808080"/>
<rect x="15" y="332.79" width="23.1" height="6.6" fill="#808080"/>
<rect x="15" y="353.77" width="23.1" height="6.6" fill="#808080"/>
<rect x="15" y="373.19" width="23.1" height="6.6" fill="#808080"/>
<rect x="15" y="391.27" width="23.1" height="6.6" fill="#808080"/>
<rect x="15" y="408.18" width="23.1" height="6.6" fill="#808080"/>
<rect x="30" y="424.07" width="8.1" height="6.6" fill="#808080"/>
<rect x="38.1" y="439.05" width="1.3" height="6.6" fill="#f3e20f"/>
<rect x="38.1" y="453.22" width="7.8" height="6.6" fill="#fbca20"/>
<rect x="38.1" y="466.66" width="12.75" height="6.6" fill="#fbae2a"/>
<rect x="38.1" y="479.44" width="12.75" height="6.6" fill="#fbae2a"/>
<rect x="38.1" y="491.63" width="11.85" height="6.6" fill="#fbb328"/>
<rect x="38.1" y="503.28" width="8.75" height="6.6" fill="#fbc522"/>
<rect x="38.1" y="514.44" width="5.8" height="6.6" fill="#f9d31b"/>
<rect x="38.1" y="525.13" width="2.7" height="6.6" fill="#f5de13"/>
<rect x="38.1" y="535.41" width="0.9" height="6.6" fill="#f2e40e"/>
<rect x="38.1" y="545.3" width="0.8" height="6.6" fill="#f2e50e"/>
<rect x="38.1" y="554.78" width="2.7" height="6.7" fill="#f5de13"/>
<rect x="38.1" y="563.98" width="6.8" height="6.7" fill="#fbcf1e"/>
<rect x="38.1" y="572.86" width="9.7" height="6.7" fill="#fbbf24"/>
<rect x="38.1" y="581.45" width="11.6" height="6.7" fill="#fbb428"/>
<rect x="38.1" y="589.77" width="13.8" height="6.7" fill="#fba82c"/>
<rect x="38.1" y="597.84" width="12.8" height="6.7" fill="#fbae2a"/>
<rect x="38.1" y="605.66" width="11.6" height="6.7" fill="#fbb428"/>
<rect x="38.1" y="613.26" width="10.9" height="6.7" fill="#fbb826"/>
<rect x="38.1" y="620.64" width="9.7" height="6.7" fill="#fbbf24"/>
<rect x="38.1" y="627.82" width="8.7" height="6.7" fill="#fbc522"/>
<rect x="38.1" y="634.81" width="7.9" height="6.7" fill="#fbc920"/>
<rect x="38.1" y="641.62" width="5.5" height="6.7" fill="#f9d41a"/>
</g>
<line x1="23.3" x2="98.6" y1="455.4" y2="455.4" stroke="#ff0000" stroke-width="2.8" stroke-dasharray="8.3,2.9"/>
<line x1="23.3" x2="98.6" y1="491.4" y2="491.4" stroke="#ff0000" stroke-width="2.8" stroke-dasharray="8.3,2.9"/>
<text x="99.8" y="450.5" font-size="11.11" font-weight="bold" fill="#ff0000" text-anchor="end">DGZ</text>
<text x="99.8" y="503.8" font-size="11.11" font-weight="bold" fill="#ff0000" text-anchor="end">DGZ</text>
<path d="M38.3,665.5V670.4M69.35,665.5V670.4M100.4,665.5V670.4" stroke="#000" stroke-width="1.1"/>
<text x="39.6" y="681.7" font-size="9.72" text-anchor="middle">0</text>
<text x="68.5" y="681.7" font-size="9.72" text-anchor="middle">−1</text>
<text x="99.6" y="681.7" font-size="9.72" text-anchor="middle">−2</text>
<text x="69.8" y="702.5" font-size="13.89" text-anchor="middle">Omega (Pa/s)</text>
<clipPath id="ch"><rect x="876.5" y="49.4" width="220" height="187.7"/></clipPath>
<g clip-path="url(#ch)">
<ellipse cx="907.9" cy="108.3" rx="21.42" ry="18.23" fill="none" stroke="#b4b4b4" stroke-width="1" stroke-dasharray="1,2"/>
<ellipse cx="907.9" cy="108.3" rx="42.84" ry="36.46" fill="none" stroke="#b4b4b4" stroke-width="1" stroke-dasharray="1,2"/>
<ellipse cx="907.9" cy="108.3" rx="64.26" ry="54.69" fill="none" stroke="#b4b4b4" stroke-width="1" stroke-dasharray="1,2"/>
<ellipse cx="907.9" cy="108.3" rx="85.68" ry="72.92" fill="none" stroke="#b4b4b4" stroke-width="1" stroke-dasharray="1,2"/>
<ellipse cx="907.9" cy="108.3" rx="107.1" ry="91.15" fill="none" stroke="#b4b4b4" stroke-width="1" stroke-dasharray="1,2"/>
<ellipse cx="907.9" cy="108.3" rx="128.52" ry="109.38" fill="none" stroke="#b4b4b4" stroke-width="1" stroke-dasharray="1,2"/>
<ellipse cx="907.9" cy="108.3" rx="149.94" ry="127.61" fill="none" stroke="#b4b4b4" stroke-width="1" stroke-dasharray="1,2"/>
<ellipse cx="907.9" cy="108.3" rx="171.36" ry="145.84" fill="none" stroke="#b4b4b4" stroke-width="1" stroke-dasharray="1,2"/>
<ellipse cx="907.9" cy="108.3" rx="192.78" ry="164.07" fill="none" stroke="#b4b4b4" stroke-width="1" stroke-dasharray="1,2"/>
<ellipse cx="907.9" cy="108.3" rx="214.2" ry="182.3" fill="none" stroke="#b4b4b4" stroke-width="1" stroke-dasharray="1,2"/>
<ellipse cx="907.9" cy="108.3" rx="235.62" ry="200.53" fill="none" stroke="#b4b4b4" stroke-width="1" stroke-dasharray="1,2"/>
<ellipse cx="907.9" cy="108.3" rx="257.04" ry="218.76" fill="none" stroke="#b4b4b4" stroke-width="1" stroke-dasharray="1,2"/>
<path d="M876.5,108.3H1096.5M908.4,49.4V237.1" stroke="#000" stroke-width="1"/>
<text x="928.92" y="124.7" font-size="9.72" fill="#808080" text-anchor="middle">10</text>
<text x="950.34" y="124.7" font-size="9.72" fill="#808080" text-anchor="middle">20</text>
<text x="971.76" y="124.7" font-size="9.72" fill="#808080" text-anchor="middle">30</text>
<text x="993.18" y="124.7" font-size="9.72" fill="#808080" text-anchor="middle">40</text>
<text x="1014.6" y="124.7" font-size="9.72" fill="#808080" text-anchor="middle">50</text>
<text x="1036.02" y="124.7" font-size="9.72" fill="#808080" text-anchor="middle">60</text>
<text x="1057.44" y="124.7" font-size="9.72" fill="#808080" text-anchor="middle">70</text>
<text x="1078.86" y="124.7" font-size="9.72" fill="#808080" text-anchor="middle">80</text>
<polyline points="895.1,105.1 877,102.3 876,100.1 879,96.9 882,94.1 885,92.3 888.5,91.3 891,91.6 894.1,93.3 901.1,96.9 908.1,99.6 915.1,102.3 919.8,104.1" fill="none" stroke="#ff0000" stroke-width="2.3" stroke-linejoin="round" stroke-linecap="round"/>
<polyline points="925.4,99.7 926.5,97.3 929.1,97.7 937.1,102.1 945.1,107.7 949.9,112.5 958.8,122.1 965,127.7 968.4,133.8 975.7,139.7 983.5,145.6" fill="none" stroke="#008000" stroke-width="2.3" stroke-linejoin="round" stroke-linecap="round"/>
<polyline points="985,155.6 983.1,161.8 982.1,173.5 982.4,183.8 986.8,194.9 992.6,192.9 995.6,186 998.5,177.2" fill="none" stroke="#bf00bf" stroke-width="2.3" stroke-linejoin="round" stroke-linecap="round"/>
<polyline points="1001.2,165.4 1005.9,154.4 1010.3,143.4 1019.1,134.6 1029.4,123.5 1041.9,109.6 1052.9,113.2 1075,118.4 1091.9,124.3" fill="none" stroke="#0000ff" stroke-width="2.3" stroke-linejoin="round" stroke-linecap="round"/>
</g>
<rect x="876.5" y="49.4" width="220" height="187.7" fill="none" stroke="#000" stroke-width="1.1"/>
<text x="925.2" y="110.4" font-size="10.4" fill="#888" text-anchor="middle">3</text>
<text x="891.0" y="96.0" font-size="10.4" text-anchor="middle">1</text>
<text x="922.2" y="107.7" font-size="10.4" text-anchor="middle">2</text>
<text x="986.0" y="154.0" font-size="10.4" text-anchor="middle">6</text>
<text x="999.3" y="175.1" font-size="10.4" text-anchor="middle">9</text>
<ellipse cx="932.6" cy="82.4" rx="8.9" ry="7.6" fill="#fff" stroke="#000" stroke-width="1.3"/>
<text transform="translate(932.6,85.9) scale(0.6,1)" font-size="10.2" font-weight="bold" text-anchor="middle">LM</text>
<ellipse cx="900.9" cy="128.7" rx="8.9" ry="7.6" fill="#fff" stroke="#000" stroke-width="1.3"/>
<text transform="translate(900.9,132.2) scale(0.6,1)" font-size="10.2" font-weight="bold" text-anchor="middle">RM</text>
<text x="985.6" y="251.1" font-size="11.11" text-anchor="middle">Hodograph (wind in kt, height in km)</text>
<text x="877.1" y="285.8" font-family="'DejaVu Sans Mono', 'Liberation Mono', monospace" font-size="13.89" fill="#000">SRH 0-1km:       18</text>
<text x="1044.5" y="285.8" font-size="13.89" font-style="italic">m<tspan font-size="9.7" font-style="normal" dy="-5.3">2</tspan><tspan dy="5.3" dx="0.7">s</tspan><tspan font-size="9.7" font-style="normal" dy="-5.3" dx="0.4">−2</tspan></text>
<text x="877.1" y="302.9" font-family="'DejaVu Sans Mono', 'Liberation Mono', monospace" font-size="13.89" fill="#000">SRH 0-3km:       91</text>
<text x="1044.5" y="302.9" font-size="13.89" font-style="italic">m<tspan font-size="9.7" font-style="normal" dy="-5.3">2</tspan><tspan dy="5.3" dx="0.7">s</tspan><tspan font-size="9.7" font-style="normal" dy="-5.3" dx="0.4">−2</tspan></text>
<text x="876.5" y="322.0" font-family="'DejaVu Sans Mono', 'Liberation Mono', monospace" font-size="13.89" fill="#000">SBCAPE:           0 J/kg</text>
<text x="876.5" y="339.2" font-family="'DejaVu Sans Mono', 'Liberation Mono', monospace" font-size="13.89" fill="#000">MLCAPE:           0 J/kg</text>
<text x="876.5" y="356.6" font-family="'DejaVu Sans Mono', 'Liberation Mono', monospace" font-size="13.89" fill="#d01c34">MUCAPE:           2 J/kg</text>
<text x="876.5" y="374.0" font-family="'DejaVu Sans Mono', 'Liberation Mono', monospace" font-size="13.89" fill="#000">SBCIN:            0 J/kg</text>
<text x="876.5" y="391.6" font-family="'DejaVu Sans Mono', 'Liberation Mono', monospace" font-size="13.89" fill="#000">MLCIN:            0 J/kg</text>
<text x="876.5" y="409.3" font-family="'DejaVu Sans Mono', 'Liberation Mono', monospace" font-size="13.89" fill="#3030d0">DCAPE:          167 J/kg</text>
<text x="876.5" y="426.8" font-family="'DejaVu Sans Mono', 'Liberation Mono', monospace" font-size="13.89" fill="#a52a2a">SHR 200-850mb:   91 kt</text>
<text x="876.5" y="444.5" font-family="'DejaVu Sans Mono', 'Liberation Mono', monospace" font-size="13.89" fill="#8c5a14">RH 300-850mb:    45 %</text>
<text x="876.5" y="461.8" font-family="'DejaVu Sans Mono', 'Liberation Mono', monospace" font-size="13.89" fill="#000">PWAT:          0.57 in</text>
<clipPath id="ct"><rect x="892.7" y="500.7" width="203.9" height="164.3"/></clipPath>
<polyline clip-path="url(#ct)" points="1080.67,500.05 1076.28,505.56 1068.63,511.08 1059.36,516.59 1050.53,522.1 1045.45,527.61 1039.89,533.12 1037.78,538.64 1032.01,544.15 1026.77,549.66 1018.89,555.18 1012.11,560.69 1013.67,566.2 1015.61,571.71 1018.27,577.23 1020.93,582.74 1020.3,588.25 1016.17,593.76 1010.1,599.27 1003.88,604.79 996.3,610.3 985.68,615.81 968.4,621.33 947.91,626.84 940.93,632.35 950.79,637.86 957.76,643.38 961.63,648.89 959.83,652.31" fill="none" stroke="#329ab6" stroke-width="2.6" stroke-linejoin="round" stroke-linecap="square"/>
<rect x="892.7" y="500.7" width="203.9" height="164.3" fill="none" stroke="#000" stroke-width="1.1"/>
<path d="M892.7,522.1H897.7M892.7,566.2H897.7M892.7,610.3H897.7M894.9,665.0V660.0M934.02,665.0V660.0M973.14,665.0V660.0M1012.26,665.0V660.0M1051.38,665.0V660.0M1090.5,665.0V660.0" stroke="#000" stroke-width="1.1"/>
<text x="922.6" y="526.1" font-size="11.11" text-anchor="end">400</text>
<text x="922.6" y="570.2" font-size="11.11" text-anchor="end">600</text>
<text x="922.6" y="614.3" font-size="11.11" text-anchor="end">800</text>
<text x="894.9" y="656.2" font-size="11.11" text-anchor="middle">280</text>
<text x="934.02" y="656.2" font-size="11.11" text-anchor="middle">290</text>
<text x="973.14" y="656.2" font-size="11.11" text-anchor="middle">300</text>
<text x="1012.26" y="656.2" font-size="11.11" text-anchor="middle">310</text>
<text x="1051.38" y="656.2" font-size="11.11" text-anchor="middle">320</text>
<text x="1090.5" y="656.2" font-size="11.11" text-anchor="middle">330</text>
<text x="993.3" y="678.4" font-size="11.11" text-anchor="middle">Equivalent Pot. Temperature (K)</text>
<text transform="translate(884.4,582.9) rotate(-90)" font-size="11.11" text-anchor="middle">Pressure (hPa)</text>
<path d="M0,0.5H1134M0.5,0V748" stroke="#a0a0a0" stroke-width="1"/>
<path d="M1,1.5H1133M1.5,1V747" stroke="#696969" stroke-width="1"/>
<path d="M1,746.5H1133M1132.5,1V747" stroke="#e3e3e3" stroke-width="1"/>
</svg>
</body></html>
